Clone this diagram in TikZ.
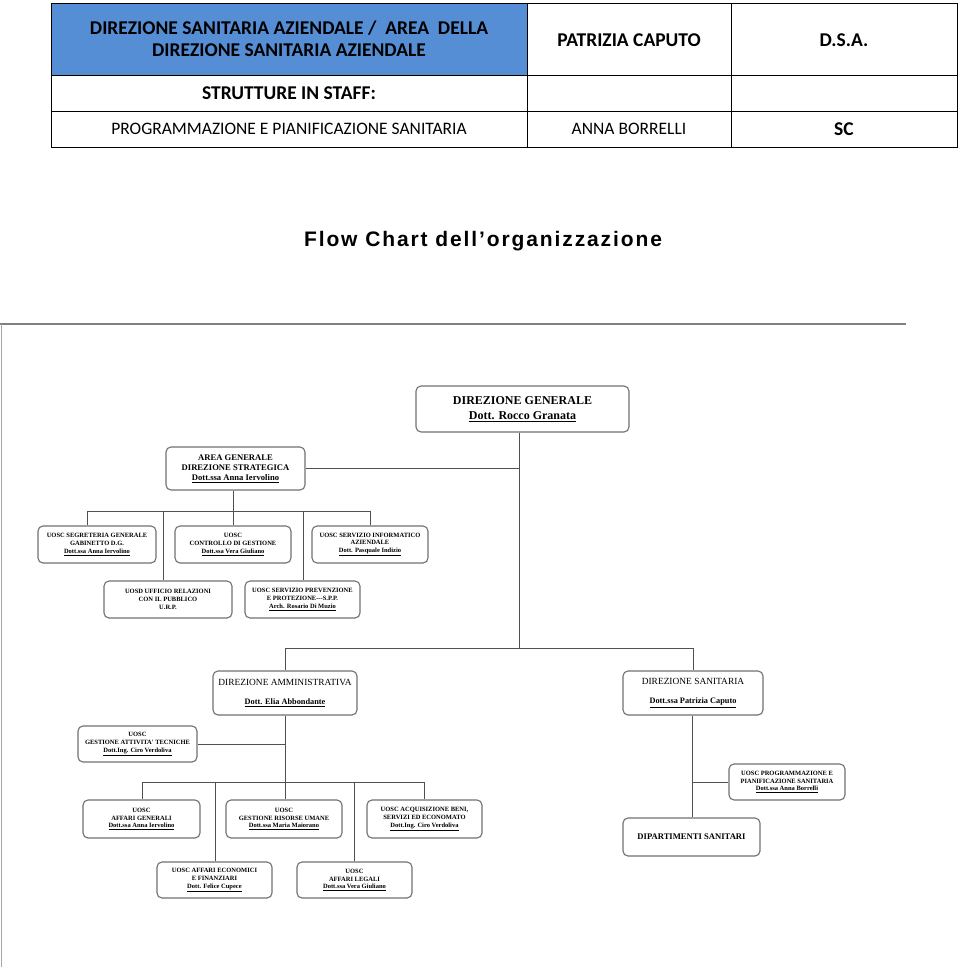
\documentclass[tikz,border=0pt]{standalone}
\usepackage{fontspec}
\newfontfamily\hdr{Carlito}
\newfontfamily\tms{Liberation Serif}
\newfontfamily\ttl[LetterSpace=9]{Liberation Sans}
\definecolor{hblue}{HTML}{558ED5}
\definecolor{boxgray}{HTML}{707070}
\definecolor{lngray}{HTML}{505050}
\begin{document}
\begin{tikzpicture}[x=1pt,y=-1pt,
  cell/.style={font=\hdr\fontsize{17.5}{20}\selectfont, align=center, inner sep=0},
  bcell/.style={cell, font=\hdr\bfseries\fontsize{19.5}{22}\selectfont},
  obox/.style={draw=boxgray, line width=1.1pt, rounded corners=5pt, align=center, inner sep=0,
     font=\tms\bfseries\fontsize{6.5}{7.7}\selectfont},
  conn/.style={draw=lngray, line width=0.9pt}]
\useasboundingbox (0,0) rectangle (960,967);
% header table
\fill[hblue] (51,3) rectangle (527,75);
\draw[line width=0.8pt] (51,3) rectangle (957,147);
\draw[line width=0.8pt] (51,75) -- (957,75) (51,111) -- (957,111) (527,3) -- (527,147) (731,3) -- (731,147);
\node[bcell] (h11) at (289,39) {DIREZIONE SANITARIA AZIENDALE /\ \ AREA\ \ DELLA\\DIREZIONE SANITARIA AZIENDALE};
\node[bcell] (h12) at (629,40) {PATRIZIA CAPUTO};
\node[bcell] (h13) at (844,40) {D.S.A.};
\node[bcell] (h21) at (289,93) {STRUTTURE IN STAFF:};
\node[cell] (h31) at (289,129) {PROGRAMMAZIONE E PIANIFICAZIONE SANITARIA};
\node[cell] (h32) at (629,129) {ANNA BORRELLI};
\node[bcell] (h33) at (844,129) {SC};
% title
\node[font=\ttl\bfseries\fontsize{21}{24}\selectfont, inner sep=0] (title) at (483,241) {Flow Chart dell’organizzazione};
% frame
\draw[draw=gray, line width=1.2pt] (0,324) -- (906,324);
\draw[draw=gray!70, line width=1pt] (1,324) -- (1,967);
% boxes
\node[obox, font=\tms\bfseries\fontsize{12}{14.5}\selectfont, minimum width=213pt, minimum height=46pt] (DG) at (522.5,409) {DIREZIONE GENERALE\\\underline{Dott. Rocco Granata}};
\node[obox, font=\tms\bfseries\fontsize{8.6}{10}\selectfont, minimum width=139pt, minimum height=43pt] (AG) at (235.5,468.5) {AREA GENERALE\\DIREZIONE STRATEGICA\\\underline{Dott.ssa Anna Iervolino}};
\node[obox, minimum width=118pt, minimum height=37pt] (S1) at (97,544.5) {UOSC SEGRETERIA GENERALE\\GABINETTO D.G.\\\underline{Dott.ssa Anna Iervolino}};
\node[obox, minimum width=116pt, minimum height=37pt] (S2) at (233,544.5) {UOSC\\CONTROLLO DI GESTIONE\\\underline{Dott.ssa Vera Giuliano}};
\node[obox, minimum width=116pt, minimum height=37pt] (S3) at (370,544.5) {UOSC SERVIZIO INFORMATICO\\AZIENDALE\\\underline{Dott. Pasquale Indizio}};
\node[obox, minimum width=128pt, minimum height=37pt] (U1) at (168,599.5) {UOSD UFFICIO RELAZIONI\\CON IL PUBBLICO\\U.R.P.};
\node[obox, minimum width=115pt, minimum height=37pt] (U2) at (302.5,599.5) {UOSC SERVIZIO PREVENZIONE\\E PROTEZIONE---S.P.P.\\\underline{Arch. Rosario Di Muzio}};
\node[obox, font=\tms\fontsize{9.4}{19}\selectfont, minimum width=144pt, minimum height=44pt] (DA) at (285,693) {DIREZIONE AMMINISTRATIVA\\\underline{\bfseries\fontsize{8.3}{19}\selectfont Dott. Elia Abbondante}};
\node[obox, font=\tms\fontsize{9.4}{19}\selectfont, minimum width=140pt, minimum height=44pt] (DS) at (693,693) {DIREZIONE SANITARIA\\\underline{\bfseries\fontsize{8.3}{19}\selectfont Dott.ssa Patrizia Caputo}};
\node[obox, minimum width=119pt, minimum height=36pt] (GAT) at (137.5,744) {UOSC\\GESTIONE ATTIVITA' TECNICHE\\\underline{Dott.Ing. Ciro Verdoliva}};
\node[obox, minimum width=116pt, minimum height=36pt] (PROG) at (787,782) {UOSC PROGRAMMAZIONE E\\PIANIFICAZIONE SANITARIA\\\underline{Dott.ssa Anna Borrelli}};
\node[obox, minimum width=117pt, minimum height=38pt] (A1) at (141.5,819) {UOSC\\AFFARI GENERALI\\\underline{Dott.ssa Anna Iervolino}};
\node[obox, minimum width=116pt, minimum height=38pt] (A2) at (284,819) {UOSC\\GESTIONE RISORSE UMANE\\\underline{Dott.ssa Maria Maiorano}};
\node[obox, minimum width=115pt, minimum height=38pt] (A3) at (424.5,819) {UOSC ACQUISIZIONE BENI,\\SERVIZI ED ECONOMATO\\\underline{Dott.Ing. Ciro Verdoliva}};
\node[obox, minimum width=115pt, minimum height=36pt] (B1) at (214.5,880) {UOSC AFFARI ECONOMICI\\E FINANZIARI\\\underline{Dott. Felice Cupece}};
\node[obox, minimum width=115pt, minimum height=36pt] (B2) at (354.5,880) {UOSC\\AFFARI LEGALI\\\underline{Dott.ssa Vera Giuliano}};
\node[obox, font=\tms\bfseries\fontsize{8.6}{10}\selectfont, minimum width=137pt, minimum height=38pt] (DIP) at (691.5,837) {DIPARTIMENTI SANITARI};
% junction coordinates
\coordinate (t1) at (519,648);
\coordinate (j1) at (233,511);
\coordinate (j2) at (285,782);
\coordinate (j3) at (692,782);
% connectors
\draw[conn] (DG.south -| t1) -- (t1);
\draw[conn] (AG.east) -- (AG.east -| t1);
\draw[conn] (t1 -| DA.north) -- (t1 -| DS.north);
\draw[conn] (t1 -| DA.north) -- (DA.north);
\draw[conn] (t1 -| DS.north) -- (DS.north);
\draw[conn] (AG.south -| j1) -- (j1);
\draw[conn] (87,511) coordinate (k1) -- (j1 -| S3.north);
\draw[conn] (k1) -- (k1 |- S1.north);
\draw[conn] (j1) -- (j1 |- S2.north);
\draw[conn] (j1 -| S3.north) -- (S3.north);
\draw[conn] (163,511) coordinate (k2) -- (k2 |- U1.north);
\draw[conn] (303,511) coordinate (k3) -- (k3 |- U2.north);
\draw[conn] (DA.south) -- (j2);
\draw[conn] (GAT.east) -- (GAT.east -| j2);
\draw[conn] (142,782) coordinate (m1) -- (424,782) coordinate (m3);
\draw[conn] (m1) -- (m1 |- A1.north);
\draw[conn] (j2) -- (j2 |- A2.north);
\draw[conn] (m3) -- (m3 |- A3.north);
\draw[conn] (215,782) coordinate (m4) -- (m4 |- B1.north);
\draw[conn] (354,782) coordinate (m5) -- (m5 |- B2.north);
\draw[conn] (DS.south -| j3) -- (j3 |- DIP.north);
\draw[conn] (j3) -- (PROG.west);
\end{tikzpicture}
\end{document}
